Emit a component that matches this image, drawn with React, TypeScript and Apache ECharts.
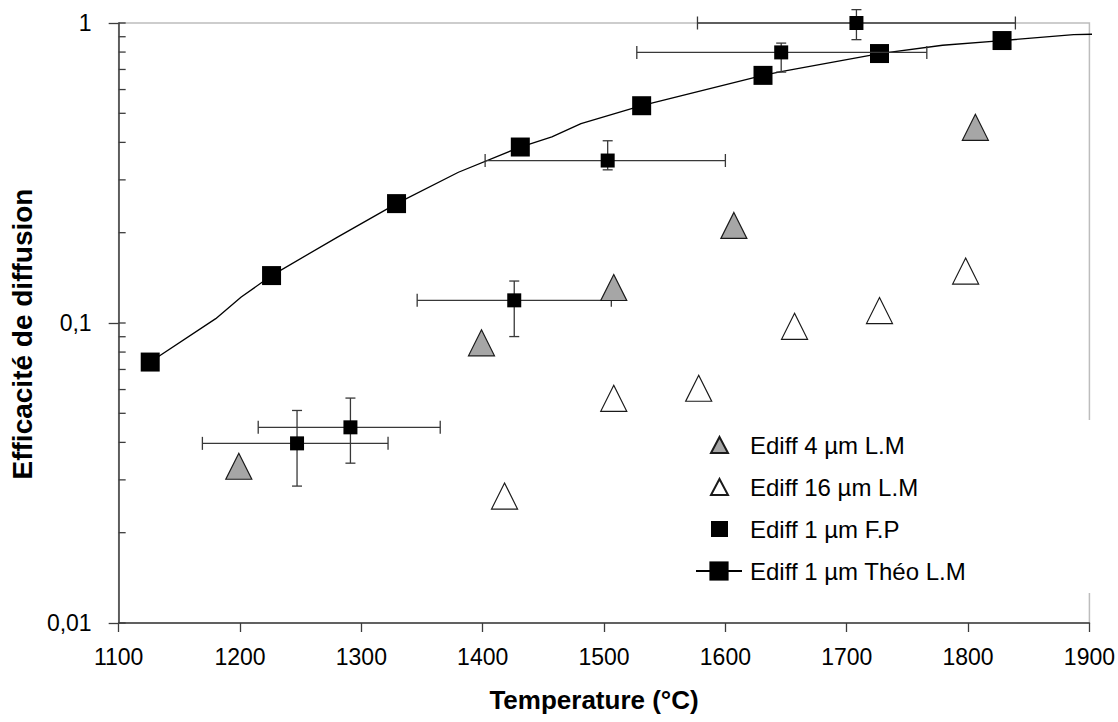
import React, { useEffect, useRef } from 'react';
import * as echarts from 'echarts';

// ---- Data ----
// Theoretical curve "Ediff 1 µm Théo L.M"
const theoT = [1126, 1180, 1201, 1226, 1280, 1329, 1380, 1431, 1457, 1481, 1531, 1631, 1647, 1727, 1779, 1828, 1887, 1910];
const theoV = [0.0741, 0.1034, 0.122, 0.1439, 0.193, 0.25, 0.318, 0.386, 0.417, 0.462, 0.53, 0.669, 0.69, 0.791, 0.843, 0.874, 0.914, 0.919];
const theoMarkerT = [1126, 1226, 1329, 1431, 1531, 1631, 1727, 1828];

// "Ediff 4 µm L.M" (grey triangles)
const e4T = [1199, 1399, 1508, 1607, 1806];
const e4V = [0.0333, 0.0859, 0.1313, 0.2115, 0.449];

// "Ediff 16 µm L.M" (open triangles)
const e16T = [1418, 1508, 1578, 1657, 1727, 1798];
const e16V = [0.0265, 0.0561, 0.0606, 0.0975, 0.11, 0.149];

// "Ediff 1 µm F.P" (small squares with error bars)
const fpT = [1247, 1291, 1426, 1503, 1646, 1708];
const fpV = [0.0397, 0.0449, 0.119, 0.348, 0.798, 1.0];
const fpTLow = [1169, 1215, 1346, 1402, 1527, 1577];
const fpTHigh = [1322, 1365, 1506, 1600, 1766, 1839];
const fpVLow = [0.0286, 0.0341, 0.0901, 0.324, 0.686, 0.88];
const fpVHigh = [0.0511, 0.0562, 0.138, 0.405, 0.857, 1.108];

// Axis
const xMin = 1100;
const xMax = 1900;
const xStep = 100;
const yMin = 0.01;
const yMax = 1;
const yTickValues = [0.01, 0.02, 0.03, 0.04, 0.05, 0.06, 0.07, 0.08, 0.09, 0.1, 0.2, 0.3, 0.4, 0.5, 0.6, 0.7, 0.8, 0.9, 1];

const names = ['Ediff 4 µm L.M', 'Ediff 16 µm L.M', 'Ediff 1 µm F.P', 'Ediff 1 µm Théo L.M'];

const FONT = '"Liberation Sans", Arial, Helvetica, sans-serif';
const AXIS = '#3c3c3c';

export default function App() {
  const ref = useRef<HTMLDivElement>(null);

  useEffect(() => {
    const chart = echarts.init(ref.current!, null, { renderer: 'svg' });

    const theoData = theoT.map((t, i) =>
      theoMarkerT.includes(t) ? { value: [t, theoV[i]] } : { value: [t, theoV[i]], symbol: 'none' }
    );
    const fpErrData = fpT.map((t, i) => [t, fpV[i], fpTLow[i], fpTHigh[i], fpVLow[i], fpVHigh[i]]);

    const legendText = { fontFamily: FONT, fontSize: 24, color: '#000' };

    const option: any = {
      animation: false,
      backgroundColor: '#ffffff',
      textStyle: { fontFamily: FONT },
      grid: {
        left: 109,
        right: 28,
        top: 23,
        bottom: 99,
        show: true,
        borderColor: '#bdbdbd',
        borderWidth: 1.5,
        backgroundColor: 'transparent',
      },
      legend: [
        {
          orient: 'vertical',
          left: 710,
          top: 433,
          padding: 0,
          itemWidth: 17,
          itemHeight: 16,
          itemGap: 18,
          symbolKeepAspect: true,
          data: names.slice(0, 3),
          textStyle: { ...legendText, padding: [0, 0, 0, 17] },
        },
        {
          orient: 'vertical',
          left: 695,
          top: 559,
          padding: 0,
          itemWidth: 46,
          itemHeight: 24,
          data: names.slice(3),
          textStyle: { ...legendText, padding: [0, 0, 0, 3] },
        },
      ],
      xAxis: {
        type: 'value',
        min: xMin,
        max: xMax,
        interval: xStep,
        name: 'Temperature (°C)',
        nameLocation: 'middle',
        nameGap: 64,
        nameTextStyle: { fontFamily: FONT, fontSize: 26, fontWeight: 'bold', color: '#000', padding: [0, 20, 0, 0] },
        axisLine: { show: true, onZero: false, lineStyle: { color: AXIS, width: 1.5 } },
        axisTick: { show: true, inside: false, length: 9, lineStyle: { color: AXIS, width: 1.3 } },
        axisLabel: {
          fontFamily: FONT,
          fontSize: 23,
          color: '#000',
          margin: 22,
          formatter: (v: number) => String(v),
        },
        splitLine: { show: false },
      },
      yAxis: {
        type: 'log',
        logBase: 10,
        min: yMin,
        max: yMax,
        name: 'Efficacité de diffusion',
        nameLocation: 'middle',
        nameGap: 70,
        nameRotate: 90,
        nameTextStyle: { fontFamily: FONT, fontSize: 28, fontWeight: 'bold', color: '#000', padding: [0, 22, 0, 0] },
        axisLine: { show: true, onZero: false, lineStyle: { color: AXIS, width: 1.5 } },
        axisTick: { show: true, inside: false, length: 10, lineStyle: { color: AXIS, width: 1.3 } },
        axisLabel: {
          fontFamily: FONT,
          fontSize: 23,
          color: '#000',
          margin: 27,
          formatter: (v: number) => String(+v.toPrecision(4)).replace('.', ','),
        },
        splitLine: { show: false },
      },
      graphic: [
        {
          type: 'rect',
          z: 100,
          shape: { x: 1084, y: 420, width: 14, height: 173 },
          style: { fill: '#ffffff' },
          silent: true,
        },
      ],
      series: [
        {
          name: 'y-ticks',
          type: 'custom',
          silent: true,
          z: 1,
          clip: false,
          data: yTickValues.map((v) => [xMin, v]),
          encode: { x: 0, y: 1 },
          renderItem: (params: any, api: any) => {
            const p = api.coord([api.value(0), api.value(1)]);
            return {
              type: 'line',
              shape: { x1: p[0], y1: p[1], x2: p[0] + 7, y2: p[1] },
              style: { stroke: AXIS, lineWidth: 1.3 },
            };
          },
        },
        {
          name: names[3],
          type: 'line',
          clip: false,
          z: 3,
          data: theoData,
          symbol: 'rect',
          symbolSize: 19,
          showSymbol: true,
          showAllSymbol: true,
          itemStyle: { color: '#000000', opacity: 1 },
          lineStyle: { color: '#000000', width: 1.3 },
        },
        {
          name: 'fp-errors',
          type: 'custom',
          silent: true,
          z: 4,
          clip: false,
          data: fpErrData,
          encode: { x: 0, y: 1 },
          renderItem: (params: any, api: any) => {
            const x = api.value(0);
            const y = api.value(1);
            const c = api.coord([x, y]);
            const l = api.coord([api.value(2), y]);
            const r = api.coord([api.value(3), y]);
            const lo = api.coord([x, api.value(4)]);
            const hi = api.coord([x, api.value(5)]);
            const style = { stroke: '#383838', lineWidth: 1.3 };
            const capX = 6.5;
            const capY = 5;
            return {
              type: 'group',
              children: [
                { type: 'line', shape: { x1: l[0], y1: c[1], x2: r[0], y2: c[1] }, style },
                { type: 'line', shape: { x1: l[0], y1: c[1] - capX, x2: l[0], y2: c[1] + capX }, style },
                { type: 'line', shape: { x1: r[0], y1: c[1] - capX, x2: r[0], y2: c[1] + capX }, style },
                { type: 'line', shape: { x1: c[0], y1: lo[1], x2: c[0], y2: hi[1] }, style },
                { type: 'line', shape: { x1: c[0] - capY, y1: lo[1], x2: c[0] + capY, y2: lo[1] }, style },
                { type: 'line', shape: { x1: c[0] - capY, y1: hi[1], x2: c[0] + capY, y2: hi[1] }, style },
              ],
            };
          },
        },
        {
          name: names[2],
          type: 'scatter',
          z: 5,
          data: fpT.map((t, i) => [t, fpV[i]]),
          symbol: 'rect',
          symbolSize: 14,
          symbolKeepAspect: true,
          itemStyle: { color: '#000000', opacity: 1 },
        },
        {
          name: names[0],
          type: 'scatter',
          z: 6,
          data: e4T.map((t, i) => [t, e4V[i]]),
          symbol: 'triangle',
          symbolSize: [26, 26],
          symbolKeepAspect: true,
          itemStyle: { color: '#a6a6a6', borderColor: '#1a1a1a', borderWidth: 1.2, opacity: 1 },
        },
        {
          name: names[1],
          type: 'scatter',
          z: 6,
          data: e16T.map((t, i) => [t, e16V[i]]),
          symbol: 'triangle',
          symbolSize: [26, 26],
          symbolKeepAspect: true,
          itemStyle: { color: '#ffffff', borderColor: '#1a1a1a', borderWidth: 1.2, opacity: 1 },
        },
      ],
    };

    chart.setOption(option);
    return () => chart.dispose();
  }, []);

  return (
    <div
      ref={ref}
      style={{ position: 'fixed', left: 0, top: 0, width: 1118, height: 722, background: '#ffffff' }}
    />
  );
}
